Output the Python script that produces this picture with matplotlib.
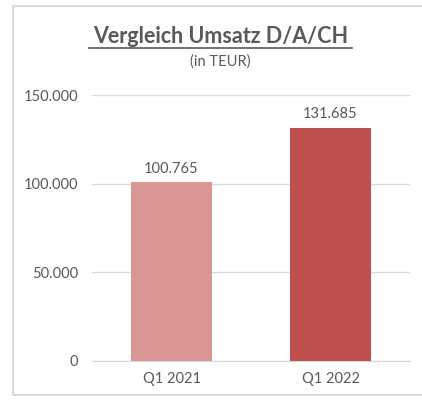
import matplotlib.pyplot as plt
from matplotlib.patches import Rectangle
from matplotlib.ticker import FuncFormatter

categories = ["Q1 2021", "Q1 2022"]
values = [100765, 131685]
bar_colors = ["#D99694", "#C0504D"]
yticks = [0, 50000, 100000, 150000]

plt.rcParams['font.family'] = ['Lato', 'DejaVu Sans']
text_color = "#595959"


def de_fmt(v, pos=None):
    return f"{int(round(v)):,}".replace(",", ".")


fig = plt.figure(figsize=(4.22, 4.01), dpi=100)
ax = fig.add_axes([0.218, 0.0998, 0.7536, 0.663])

x = range(len(categories))
bars = ax.bar(x, values, width=0.51, color=bar_colors, zorder=3)
for b, v in zip(bars, values):
    ax.text(b.get_x() + b.get_width() / 2, v + 3500, de_fmt(v),
            ha='center', va='bottom', fontsize=10.5, color=text_color)

ax.set_xlim(-0.5, 1.5)
ax.set_ylim(0, 150000)
ax.set_yticks(yticks)
ax.yaxis.set_major_formatter(FuncFormatter(de_fmt))
ax.set_xticks(list(x))
ax.set_xticklabels(categories)
ax.grid(axis='y', color="#D9D9D9", linewidth=1, zorder=0)
ax.tick_params(axis='both', length=0, labelsize=10.5, labelcolor=text_color)
ax.tick_params(axis='y', pad=10)
ax.tick_params(axis='x', pad=8)
for s in ['top', 'right', 'left']:
    ax.spines[s].set_visible(False)
ax.spines['bottom'].set_color("#D9D9D9")

fig.text(0.522, 0.909, "Vergleich Umsatz D/A/CH", ha='center', va='center',
         fontsize=15.5, fontweight='bold', color=text_color)
fig.add_artist(plt.Line2D([0.211, 0.834], [0.881, 0.881], color=text_color,
                          linewidth=1.2, transform=fig.transFigure))
fig.text(0.522, 0.846, "(in TEUR)", ha='center', va='center',
         fontsize=10.5, color=text_color)

fig.add_artist(Rectangle((0.031, 0.015), 1.2, 0.97, transform=fig.transFigure,
                         fill=False, edgecolor="#D9D9D9", linewidth=1.5))

fig.savefig("out.png", dpi=100)
